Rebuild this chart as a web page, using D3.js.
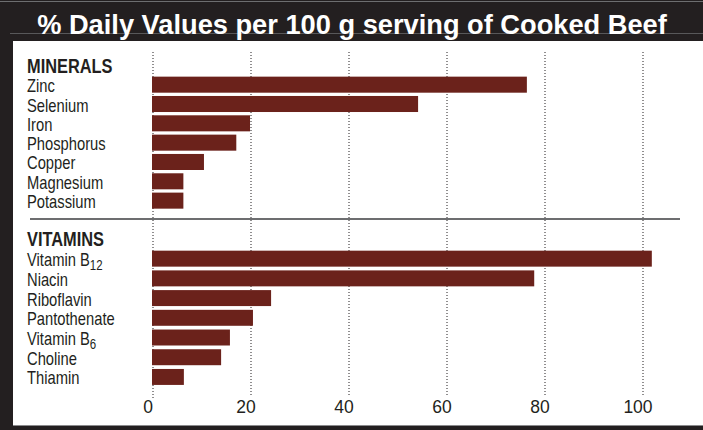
<!DOCTYPE html>
<html>
<head>
<meta charset="utf-8">
<script src="https://cdn.jsdelivr.net/npm/d3@7"></script>
<style>
  html, body { margin: 0; padding: 0; background: #fff; }
  svg { display: block; }
</style>
</head>
<body>
<svg id="chart" width="703" height="430"></svg>
<script>
// data (% daily value per 100 g)
var minerals = ["Zinc", "Selenium", "Iron", "Phosphorus", "Copper", "Magnesium", "Potassium"];
var mineralValues = [76.3, 54.1, 19.8, 17.0, 10.4, 6.2, 6.2];
var vitamins = ["Vitamin B12", "Niacin", "Riboflavin", "Pantothenate", "Vitamin B6", "Choline", "Thiamin"];
var vitaminValues = [101.8, 77.8, 24.1, 20.4, 15.7, 13.9, 6.3];
var ticks = [0, 20, 40, 60, 80, 100];

var dark = "#231f20";
var barColor = "#6b221b";
var sansFont = "'Liberation Sans', Arial, sans-serif";
var narrow = 0.82; // condensed look: squeeze Liberation Sans horizontally

var svg = d3.select("#chart");

// frame
svg.append("rect").attr("x", 0).attr("y", 0).attr("width", 703).attr("height", 430).attr("fill", dark);
svg.append("rect").attr("x", 13).attr("y", 41).attr("width", 690).attr("height", 384).attr("fill", "#fff");
svg.append("line").attr("x1", 0).attr("x2", 703).attr("y1", 1.5).attr("y2", 1.5)
    .attr("stroke", "#6d6e70").attr("stroke-width", 1);
svg.append("line").attr("x1", 10).attr("x2", 703).attr("y1", 33.5).attr("y2", 33.5)
    .attr("stroke", "#58585a").attr("stroke-width", 1);
svg.append("line").attr("x1", 13).attr("x2", 703).attr("y1", 425.5).attr("y2", 425.5)
    .attr("stroke", "#8a8a8c").attr("stroke-width", 1);

// title, fitted to its width in the picture
var title = svg.append("text")
    .attr("x", 352).attr("y", 34)
    .attr("text-anchor", "middle")
    .attr("font-family", sansFont)
    .attr("font-weight", "bold")
    .attr("font-size", 26)
    .attr("fill", "#fff")
    .text("% Daily Values per 100 g serving of Cooked Beef");
var tw = title.node().getComputedTextLength();
title.attr("font-size", 26 * 630 / tw);

var x = d3.scaleLinear().domain([0, 100]).range([153, 643]);

// dotted gridlines
svg.append("g").selectAll("line").data(ticks).join("line")
    .attr("x1", d => x(d)).attr("x2", d => x(d))
    .attr("y1", 52).attr("y2", d => d === 0 ? 400 : 395)
    .attr("stroke", "#231f20")
    .attr("stroke-width", 1)
    .attr("stroke-dasharray", "1,2");

// separator
svg.append("line").attr("x1", 30).attr("x2", 680).attr("y1", 219).attr("y2", 219)
    .attr("stroke", "#6d6e70").attr("stroke-width", 2);

function group(header, headerY, cats, vals, range, pad) {
    var y = d3.scaleBand().domain(cats).range(range)
        .paddingInner(pad).paddingOuter(pad / 2);
    var g = svg.append("g");
    g.append("text")
        .attr("transform", "translate(27," + headerY + ") scale(" + narrow + ",1)")
        .attr("font-family", sansFont)
        .attr("font-weight", "bold")
        .attr("font-size", 20)
        .attr("fill", dark)
        .text(header);
    g.selectAll("rect").data(cats).join("rect")
        .attr("x", x(0) - 1)
        .attr("y", d => y(d))
        .attr("width", (d, i) => x(vals[i]) - x(0) + 1)
        .attr("height", y.bandwidth())
        .attr("fill", barColor);
    var lab = g.selectAll("text.lab").data(cats).join("text")
        .attr("class", "lab")
        .attr("transform", d => "translate(27," + (y(d) + y.bandwidth() - 0.5) + ") scale(" + narrow + ",1)")
        .attr("font-family", sansFont)
        .attr("font-size", 18)
        .attr("fill", dark);
    lab.each(function(d) {
        var m = d.match(/^(Vitamin B)(\d+)$/);
        var t = d3.select(this);
        if (m) {
            t.append("tspan").text(m[1]);
            t.append("tspan").attr("font-size", 14).attr("dy", 4).text(m[2]);
        } else {
            t.text(d);
        }
    });
}

group("MINERALS", 73, minerals, mineralValues, [75, 210.3], 0.17);
group("VITAMINS", 246, vitamins, vitaminValues, [248.8, 386.8], 0.19);

// tick labels
svg.append("g").selectAll("text").data(ticks).join("text")
    .attr("x", d => x(d) - 5)
    .attr("y", 413)
    .attr("text-anchor", "middle")
    .attr("font-family", sansFont)
    .attr("font-size", 17.5)
    .attr("fill", dark)
    .text(d => d);
</script>
</body>
</html>
